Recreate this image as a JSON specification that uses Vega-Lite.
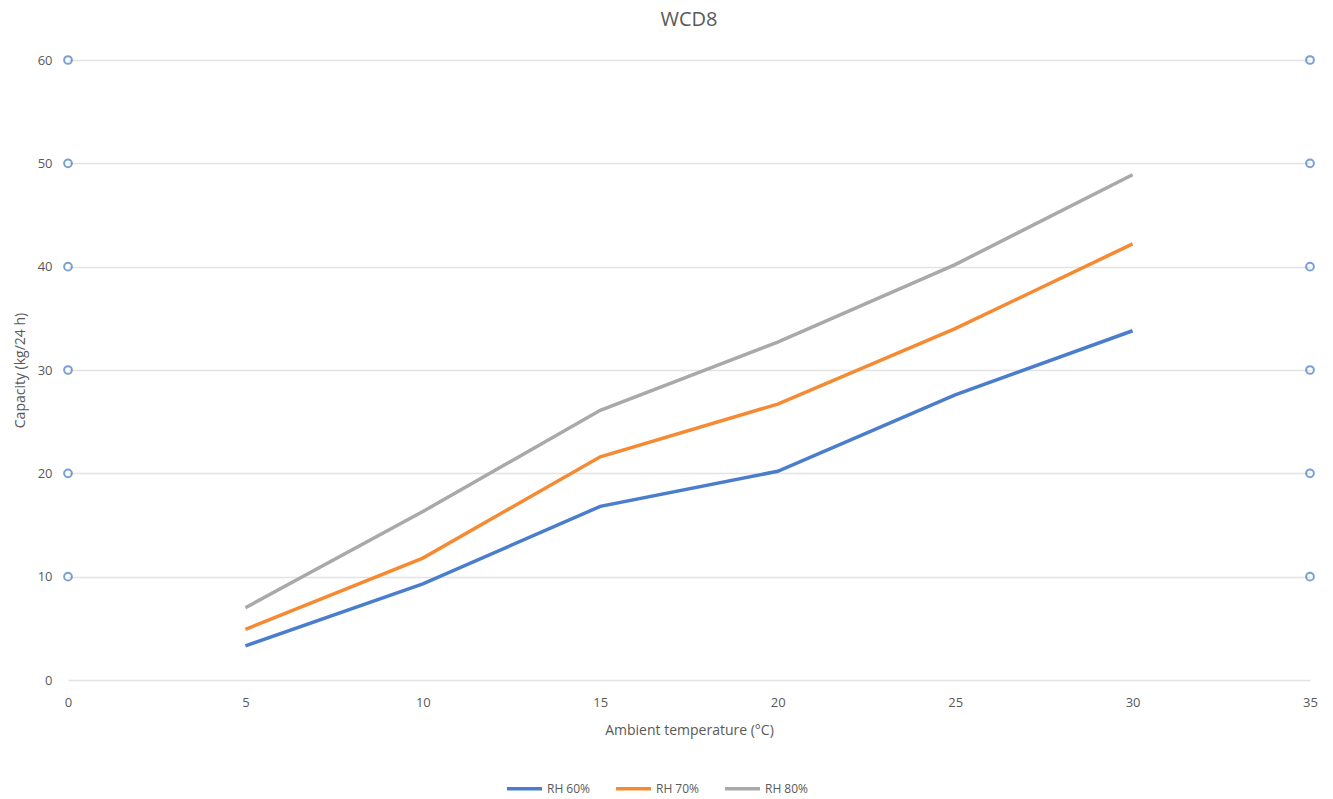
{
  "$schema": "https://vega.github.io/schema/vega-lite/v6.json",
  "width": 1242,
  "height": 620,
  "autosize": {"type": "pad"},
  "padding": {"left": 13, "top": 10, "right": 18, "bottom": 4},
  "title": {
    "text": "WCD8",
    "fontSize": 20,
    "font": "Open Sans",
    "fontWeight": "normal",
    "color": "#595959",
    "offset": 22
  },
  "datasets": {
    "capacity": [
      {"temp": 5, "series": "RH 60%", "cap": 3.3},
      {"temp": 10, "series": "RH 60%", "cap": 9.3},
      {"temp": 15, "series": "RH 60%", "cap": 16.8},
      {"temp": 20, "series": "RH 60%", "cap": 20.2},
      {"temp": 25, "series": "RH 60%", "cap": 27.6},
      {"temp": 30, "series": "RH 60%", "cap": 33.8},
      {"temp": 5, "series": "RH 70%", "cap": 4.9},
      {"temp": 10, "series": "RH 70%", "cap": 11.8},
      {"temp": 15, "series": "RH 70%", "cap": 21.6},
      {"temp": 20, "series": "RH 70%", "cap": 26.7},
      {"temp": 25, "series": "RH 70%", "cap": 34.0},
      {"temp": 30, "series": "RH 70%", "cap": 42.2},
      {"temp": 5, "series": "RH 80%", "cap": 7.0},
      {"temp": 10, "series": "RH 80%", "cap": 16.3},
      {"temp": 15, "series": "RH 80%", "cap": 26.1},
      {"temp": 20, "series": "RH 80%", "cap": 32.7},
      {"temp": 25, "series": "RH 80%", "cap": 40.2},
      {"temp": 30, "series": "RH 80%", "cap": 48.9}
    ],
    "markers": [
      {"temp": 0, "cap": 10}, {"temp": 0, "cap": 20}, {"temp": 0, "cap": 30},
      {"temp": 0, "cap": 40}, {"temp": 0, "cap": 50}, {"temp": 0, "cap": 60},
      {"temp": 35, "cap": 10}, {"temp": 35, "cap": 20}, {"temp": 35, "cap": 30},
      {"temp": 35, "cap": 40}, {"temp": 35, "cap": 50}, {"temp": 35, "cap": 60}
    ]
  },
  "layer": [
    {
      "data": {"name": "capacity"},
      "mark": {"type": "line", "strokeWidth": 3.5},
      "encoding": {
        "x": {
          "field": "temp",
          "type": "quantitative",
          "scale": {"domain": [0, 35], "nice": false},
          "axis": {
            "title": "Ambient temperature (°C)",
            "values": [0, 5, 10, 15, 20, 25, 30, 35],
            "grid": false,
            "domain": false,
            "ticks": false,
            "labelFlush": false,
            "labelPadding": 16,
            "titlePadding": 14
          }
        },
        "y": {
          "field": "cap",
          "type": "quantitative",
          "scale": {"domain": [0, 60], "nice": false},
          "axis": {
            "title": "Capacity (kg/24 h)",
            "values": [0, 10, 20, 30, 40, 50, 60],
            "domain": false,
            "ticks": false,
            "labelFlush": false,
            "labelPadding": 16,
            "titlePadding": 10
          }
        },
        "color": {
          "field": "series",
          "type": "nominal",
          "scale": {
            "domain": ["RH 60%", "RH 70%", "RH 80%"],
            "range": ["#4a7dcc", "#f58a33", "#a9a9a9"]
          },
          "legend": {
            "title": null,
            "orient": "none",
            "legendX": 437,
            "legendY": 709,
            "direction": "horizontal",
            "symbolType": "stroke",
            "symbolSize": 1225,
            "symbolStrokeWidth": 3.5,
            "labelOffset": 3,
            "columnPadding": 18
          }
        }
      }
    },
    {
      "data": {"name": "markers"},
      "mark": {"type": "point", "filled": false, "size": 60, "strokeWidth": 2, "color": "#3f78c0"},
      "encoding": {
        "x": {"field": "temp", "type": "quantitative"},
        "y": {"field": "cap", "type": "quantitative"}
      }
    }
  ],
  "config": {
    "font": "Open Sans",
    "view": {"stroke": null},
    "axis": {
      "labelFont": "Open Sans",
      "labelFontSize": 13,
      "labelColor": "#595959",
      "titleFont": "Open Sans",
      "titleFontSize": 14,
      "titleFontWeight": "normal",
      "titleColor": "#595959",
      "gridColor": "#e3e3e3",
      "gridWidth": 1.5
    },
    "legend": {
      "labelFont": "Open Sans",
      "labelFontSize": 12,
      "labelColor": "#595959"
    }
  }
}
